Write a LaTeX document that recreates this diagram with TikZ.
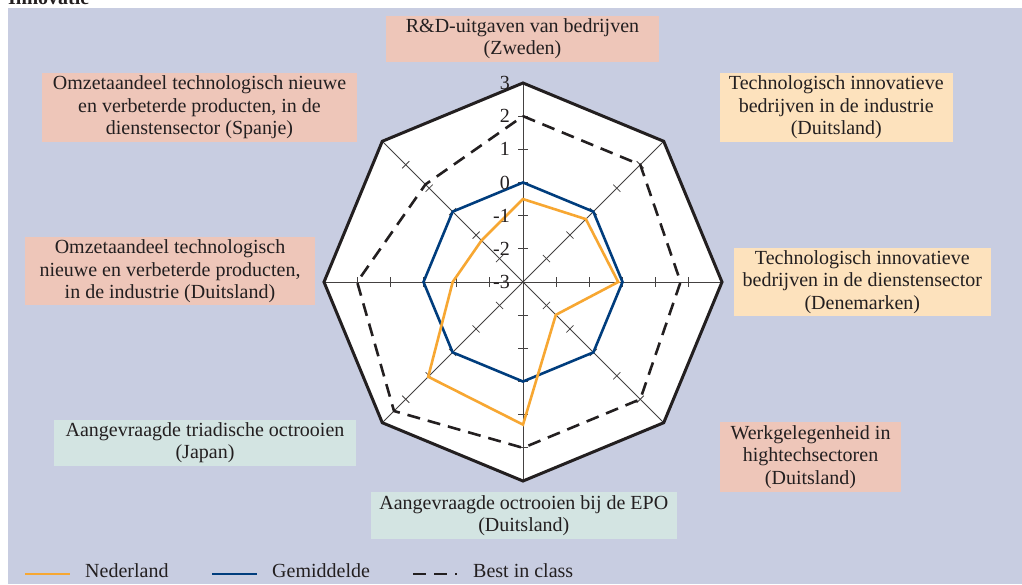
\documentclass[tikz,border=0pt]{standalone}
\usepackage{fontspec}
\setmainfont{Liberation Serif}
\usetikzlibrary{calc}

\definecolor{panel}{RGB}{200,205,225}
\definecolor{salmon}{RGB}{238,198,185}
\definecolor{peach}{RGB}{253,226,189}
\definecolor{mint}{RGB}{211,228,226}
\definecolor{nlorange}{RGB}{247,167,50}
\definecolor{avgblue}{RGB}{0,61,125}
\definecolor{ink}{RGB}{35,31,32}

% radius on the chart for a score v (scale -3 ... 3)
\newcommand\rad[1]{(#1+3)*33.17}

\tikzset{
  txt/.style={text=ink, font=\fontsize{20}{22.5}\selectfont},
  labelbox/.style={txt, align=center, inner sep=0pt, anchor=center},
  axisline/.style={draw=ink!85, line width=0.9pt},
  frame/.style={draw=ink, line width=3pt, line join=miter},
  nl/.style={draw=nlorange, line width=2.6pt},
  avg/.style={draw=avgblue, line width=2.6pt},
  best/.style={draw=ink, line width=2.6pt, dash pattern=on 13pt off 8pt},
  scorelabel/.style={txt, anchor=east, inner sep=0pt}
}

\begin{document}
\begin{tikzpicture}[x=1pt, y=-1pt]
\useasboundingbox (0,0) rectangle (1022,584);

% panel background
\fill[panel] (8,8) rectangle (1022,584);

% section title (runs over the top edge)
\node[txt, font=\fontsize{20}{22.5}\selectfont\bfseries, anchor=base west, inner sep=0pt] (title) at (8,4) {Innovatie};

% indicator boxes
\node[labelbox, fill=salmon, minimum width=273.6pt, minimum height=46pt] (rd) at (522.5,38.7)
  {R\&D-uitgaven van bedrijven\\(Zweden)};
\node[labelbox, fill=salmon, minimum width=315.6pt, minimum height=68.4pt] (omzetdienst) at (199.5,107.5)
  {Omzetaandeel technologisch nieuwe\\en verbeterde producten, in de\\dienstensector (Spanje)};
\node[labelbox, fill=peach, minimum width=232.7pt, minimum height=68.4pt] (techind) at (836.3,107.5)
  {Technologisch innovatieve\\bedrijven in de industrie\\(Duitsland)};
\node[labelbox, fill=salmon, minimum width=290pt, minimum height=67.7pt] (omzetind) at (170,271.2)
  {Omzetaandeel technologisch\\nieuwe en verbeterde producten,\\in de industrie (Duitsland)};
\node[labelbox, fill=peach, minimum width=256.7pt, minimum height=67.4pt] (techdienst) at (862.3,282)
  {Technologisch innovatieve\\bedrijven in de dienstensector\\(Denemarken)};
\node[labelbox, fill=mint, minimum width=302pt, minimum height=45.7pt] (triad) at (205,442.8)
  {Aangevraagde triadische octrooien\\(Japan)};
\node[labelbox, fill=salmon, minimum width=181pt, minimum height=70pt] (werk) at (810.5,456.7)
  {Werkgelegenheid in\\hightechsectoren\\(Duitsland)};
\node[labelbox, fill=mint, minimum width=305.7pt, minimum height=47pt] (epo) at (523.8,515.8)
  {Aangevraagde octrooien bij de EPO\\(Duitsland)};

% radar chart, centre of the octagon
\begin{scope}[shift={(523,282)}, yscale=-1]
  \coordinate (c) at (0,0);
  % white plotting area
  \fill[white] (90:199) -- (45:199) -- (0:199) -- (-45:199) -- (-90:199)
    -- (-135:199) -- (180:199) -- (135:199) -- cycle;

  % spokes with unit ticks
  \foreach \a in {0,45,...,315} {
    \draw[axisline] (c) -- (\a:199);
    \foreach \v in {-2,...,2} {
      \draw[axisline, line width=0.8pt]
        ($(\a:{\rad{\v}})+(\a+90:5)$) -- ($(\a:{\rad{\v}})+(\a-90:5)$);
    }
  }

  % best in class
  \draw[best] (90:{\rad{2}}) -- (45:{\rad{2}}) -- (0:{\rad{1.75}}) -- (-45:{\rad{2}})
    -- (-90:{\rad{2}}) -- (-135:{\rad{2.5}}) -- (180:{\rad{2}}) -- (135:{\rad{1.16}}) -- cycle;

  % average of the countries
  \draw[avg] (90:{\rad{0}}) -- (45:{\rad{0}}) -- (0:{\rad{0}}) -- (-45:{\rad{0}})
    -- (-90:{\rad{0}}) -- (-135:{\rad{0}}) -- (180:{\rad{0}}) -- (135:{\rad{0}}) -- cycle;

  % the Netherlands
  \draw[nl] (90:{\rad{-0.5}}) -- (45:{\rad{-0.32}}) -- (0:{\rad{-0.13}}) -- (-45:{\rad{-1.6}})
    -- (-90:{\rad{1.3}}) -- (-135:{\rad{1.04}}) -- (180:{\rad{-0.88}}) -- (135:{\rad{-1.23}}) -- cycle;

  % outer frame at score 3
  \draw[frame] (90:199) -- (45:199) -- (0:199) -- (-45:199) -- (-90:199)
    -- (-135:199) -- (180:199) -- (135:199) -- cycle;

  % scale on the vertical spoke
  \foreach \v/\t in {3/3,2/2,1/1,0/0,-1/-1,-2/-2,-3/-3} {
    \node[scorelabel] (s\t) at (-13,{\rad{\v}}) {\t};
  }
\end{scope}

% legend
\coordinate (l1a) at (25,574);  \coordinate (l1b) at (70,574);
\coordinate (l2a) at (212,574); \coordinate (l2b) at (257,574);
\coordinate (l3a) at (413,574); \coordinate (l3b) at (457,574);
\draw[nl] (l1a) -- (l1b);
\node[txt, anchor=base west, inner sep=0pt] (lnl) at (85,577) {Nederland};
\draw[avg] (l2a) -- (l2b);
\node[txt, anchor=base west, inner sep=0pt] (lavg) at (272,577) {Gemiddelde};
\draw[best] (l3a) -- (l3b);
\node[txt, anchor=base west, inner sep=0pt] (lbest) at (473,577) {Best in class};
\end{tikzpicture}
\end{document}
